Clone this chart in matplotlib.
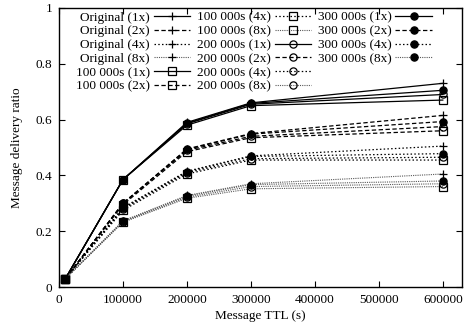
import matplotlib
matplotlib.use("Agg")
import matplotlib.pyplot as plt
from matplotlib.lines import Line2D

plt.rcParams['font.family'] = ['Liberation Serif', 'DejaVu Serif']

ttl = [10000, 100000, 200000, 300000, 600000]
policies = ["Original", "100 000s", "200 000s", "300 000s"]
mults = ["1x", "2x", "4x", "8x"]

values = {
    ("Original", "1x"): [0.03, 0.385, 0.590, 0.660, 0.730],
    ("100 000s", "1x"): [0.03, 0.385, 0.580, 0.650, 0.670],
    ("200 000s", "1x"): [0.03, 0.385, 0.585, 0.655, 0.690],
    ("300 000s", "1x"): [0.03, 0.385, 0.587, 0.658, 0.705],
    ("Original", "2x"): [0.03, 0.300, 0.495, 0.550, 0.615],
    ("100 000s", "2x"): [0.03, 0.295, 0.485, 0.535, 0.560],
    ("200 000s", "2x"): [0.03, 0.300, 0.490, 0.540, 0.575],
    ("300 000s", "2x"): [0.03, 0.300, 0.493, 0.548, 0.593],
    ("Original", "4x"): [0.03, 0.285, 0.415, 0.470, 0.505],
    ("100 000s", "4x"): [0.03, 0.275, 0.405, 0.455, 0.455],
    ("200 000s", "4x"): [0.03, 0.280, 0.410, 0.460, 0.465],
    ("300 000s", "4x"): [0.03, 0.282, 0.413, 0.468, 0.478],
    ("Original", "8x"): [0.03, 0.237, 0.328, 0.370, 0.405],
    ("100 000s", "8x"): [0.03, 0.232, 0.318, 0.352, 0.360],
    ("200 000s", "8x"): [0.03, 0.234, 0.322, 0.360, 0.370],
    ("300 000s", "8x"): [0.03, 0.236, 0.326, 0.367, 0.380],
}

markers = {"Original": dict(marker='+', mfc='black'),
           "100 000s": dict(marker='s', mfc='none'),
           "200 000s": dict(marker='o', mfc='none'),
           "300 000s": dict(marker='o', mfc='black')}
styles = {"1x": dict(ls='-', color='black', lw=0.9),
          "2x": dict(ls=(0, (3.5, 2)), color='black', lw=0.9),
          "4x": dict(ls=(0, (1.2, 1.8)), color='black', lw=0.9),
          "8x": dict(ls=(0, (1, 1)), color='0.35', lw=0.8)}

fig = plt.figure(figsize=(4.68, 3.33), dpi=100)
ax = fig.add_axes([59/468, 1 - 287/333, (462-59)/468, (287-8)/333])

handles = []
labels = []
for p in policies:
    for m in mults:
        st = styles[m]
        mk = markers[p]
        h, = ax.plot(ttl, values[(p, m)], ls=st['ls'], color=st['color'], lw=st['lw'],
                     marker=mk['marker'], mfc=mk['mfc'], mec='black', mew=0.9, ms=5.2)
        handles.append(h)
        labels.append(f"{p} ({m})")

for _ in range(2):
    handles.append(Line2D([], [], ls='none', marker=None))
    labels.append('')

ax.set_xlim(0, 630000)
ax.set_ylim(0, 1)
ax.set_xticks([0, 100000, 200000, 300000, 400000, 500000, 600000])
ax.set_xticklabels(["0", "100000", "200000", "300000", "400000", "500000", "600000"])
ax.set_yticks([0, 0.2, 0.4, 0.6, 0.8, 1])
ax.set_yticklabels(["0", "0.2", "0.4", "0.6", "0.8", "1"])
ax.tick_params(direction='in', top=True, right=True, labelsize=9.5, length=4, width=0.8, pad=5)
for s in ax.spines.values():
    s.set_linewidth(1.0)
ax.set_xlabel("Message TTL (s)", fontsize=9.5, labelpad=3)
ax.set_ylabel("Message delivery ratio", fontsize=9.5, labelpad=9)

leg = ax.legend(handles, labels, ncol=3, markerfirst=False, frameon=False,
                loc='upper right', bbox_to_anchor=(1 - 27/403, 1.0), fontsize=9.5,
                handlelength=2.75, handletextpad=0.3, columnspacing=0.5,
                labelspacing=0.12, borderaxespad=0.0, borderpad=0.25)

fig.savefig("out.png", dpi=100)
